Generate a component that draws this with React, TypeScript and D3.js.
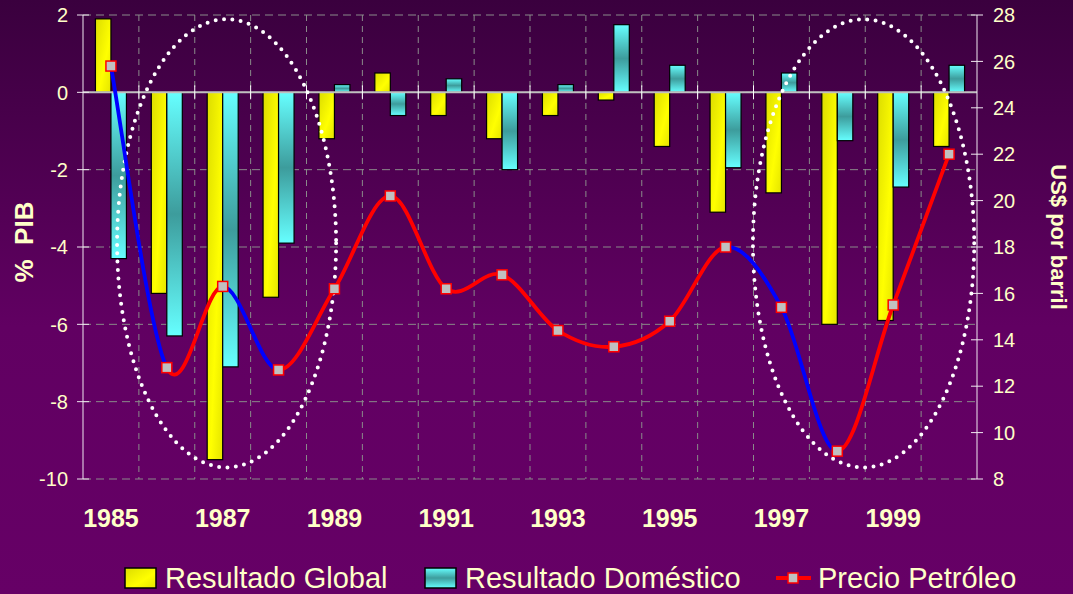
import React from 'react';
import * as d3 from 'd3';

// Chart data
const years = [1985, 1986, 1987, 1988, 1989, 1990, 1991, 1992, 1993, 1994, 1995, 1996, 1997, 1998, 1999, 2000];
const globalResult = [1.9, -5.2, -9.5, -5.3, -1.2, 0.5, -0.6, -1.2, -0.6, -0.2, -1.4, -3.1, -2.6, -6.0, -5.9, -1.4];
const domesticResult = [-4.3, -6.3, -7.1, -3.9, 0.2, -0.6, 0.35, -2.0, 0.2, 1.75, 0.7, -1.95, 0.5, -1.25, -2.45, 0.7];
const oilPrice = [25.8, 12.8, 16.3, 12.7, 16.2, 20.2, 16.2, 16.8, 14.4, 13.7, 14.8, 18.0, 15.4, 9.2, 15.5, 22.0];
// price segments (from year i to year i+1) drawn in blue
const blueSegments = [0, 2, 11, 12];
const leftTicks = [2, 0, -2, -4, -6, -8, -10];
const rightTicks = [28, 26, 24, 22, 20, 18, 16, 14, 12, 10, 8];
const yearLabels = [1985, 1987, 1989, 1991, 1993, 1995, 1997, 1999];
// dotted ellipses, in category units (x) and % PIB (y)
const ellipses = [
  { x0: 0.61, x1: 4.53, y0: 1.89, y1: -9.7 },
  { x0: 11.99, x1: 15.95, y0: 1.89, y1: -9.7 },
];
const legendItems = ['Resultado Global', 'Resultado Doméstico', 'Precio Petróleo'];

const W = 1073, H = 594;
const margin = { top: 15, right: 96, bottom: 115, left: 83 };
const textColor = '#ffffc8';
const font = '"Liberation Sans", Arial, sans-serif';

export default function App() {
  const x = d3.scaleBand<number>().domain(years).range([margin.left, W - margin.right]);
  const xi = d3.scaleLinear().domain([0, years.length]).range([margin.left, W - margin.right]);
  const yL = d3.scaleLinear().domain([-10, 2]).range([H - margin.bottom, margin.top]);
  const yR = d3.scaleLinear().domain([8, 28]).range([H - margin.bottom, margin.top]);
  const sub = d3.scaleBand<string>().domain(['g', 'd']).range([0, 31]);
  const bw = x.bandwidth();
  const cx = (yr: number) => (x(yr) as number) + bw / 2;

  const pts = years.map((yr, i) => [cx(yr), yR(oilPrice[i])] as [number, number]);
  // smoothed segment i -> i+1 (cardinal spline, tension 0)
  const segPath = (i: number) => {
    const p0 = pts[Math.max(i - 1, 0)], p1 = pts[i], p2 = pts[i + 1], p3 = pts[Math.min(i + 2, pts.length - 1)];
    const path = d3.path();
    path.moveTo(p1[0], p1[1]);
    path.bezierCurveTo(
      p1[0] + (p2[0] - p0[0]) / 6, p1[1] + (p2[1] - p0[1]) / 6,
      p2[0] - (p3[0] - p1[0]) / 6, p2[1] - (p3[1] - p1[1]) / 6,
      p2[0], p2[1]
    );
    return path.toString();
  };

  const x0 = margin.left, x1 = W - margin.right;
  const yZero = yL(0);

  return (
    <svg width={W} height={H} style={{ position: 'absolute', left: 0, top: 0 }} fontFamily={font}>
      <defs>
        <linearGradient id="bg" x1="0" y1="0" x2="0" y2="1">
          <stop offset="0" stopColor="#3a003e" />
          <stop offset="0.55" stopColor="#610062" />
          <stop offset="1" stopColor="#660066" />
        </linearGradient>
        <linearGradient id="cyan" x1="0" y1="0" x2="0" y2="1">
          <stop offset="0" stopColor="#66ffff" />
          <stop offset="0.5" stopColor="#3d9c9c" />
          <stop offset="1" stopColor="#66ffff" />
        </linearGradient>
        <linearGradient id="yellow" x1="0" y1="0" x2="1" y2="1">
          <stop offset="0" stopColor="#dcdc00" />
          <stop offset="0.6" stopColor="#ffff00" />
          <stop offset="1" stopColor="#e4e400" />
        </linearGradient>
      </defs>
      <rect width={W} height={H} fill="url(#bg)" />

      {/* grid */}
      {leftTicks.map(t => (
        <line key={'h' + t} x1={x0} x2={x1} y1={yL(t)} y2={yL(t)} stroke="#8a8a8a" strokeDasharray="8 5" strokeWidth={1} />
      ))}
      {years.slice(1).map(yr => (
        <line key={'v' + yr} x1={x(yr)} x2={x(yr)} y1={yL(2)} y2={yL(-10)} stroke="#8a8a8a" strokeDasharray="6 5" strokeWidth={1} />
      ))}

      {/* bars */}
      {years.map((yr, i) => {
        const left = cx(yr) - 15.5;
        const g = globalResult[i], d = domesticResult[i];
        return (
          <g key={'b' + yr}>
            <rect x={left + (sub('g') as number)} width={sub.bandwidth()} y={Math.min(yL(g), yZero)} height={Math.abs(yL(g) - yZero)}
              fill="url(#yellow)" stroke="#000" strokeWidth={1.2} />
            <rect x={left + (sub('d') as number)} width={sub.bandwidth()} y={Math.min(yL(d), yZero)} height={Math.abs(yL(d) - yZero)}
              fill="url(#cyan)" stroke="#000" strokeWidth={1.2} />
          </g>
        );
      })}

      {/* zero line & axes */}
      <line x1={x0} x2={x1} y1={yZero} y2={yZero} stroke="#c0c0c0" strokeWidth={2} />
      {years.slice(1).map(yr => (
        <line key={'xt' + yr} x1={x(yr)} x2={x(yr)} y1={yZero - 7} y2={yZero + 7} stroke="#fff" strokeWidth={1} />
      ))}
      <line x1={x0} x2={x0} y1={yL(2)} y2={yL(-10)} stroke="#f0e8f0" strokeWidth={1} />
      <line x1={x1} x2={x1} y1={yR(28)} y2={yR(8)} stroke="#f0e8f0" strokeWidth={1} />
      {leftTicks.map(t => (
        <g key={'lt' + t}>
          <line x1={x0 - 6} x2={x0 + 6} y1={yL(t)} y2={yL(t)} stroke="#f0e8f0" />
          <text x={x0 - 15} y={yL(t)} dy="0.36em" textAnchor="end" fontSize={20} fill={textColor}>{t}</text>
        </g>
      ))}
      {rightTicks.map(t => (
        <g key={'rt' + t}>
          <line x1={x1 - 6} x2={x1 + 6} y1={yR(t)} y2={yR(t)} stroke="#f0e8f0" />
          <text x={x1 + 16} y={yR(t)} dy="0.36em" textAnchor="start" fontSize={20} fill={textColor}>{t}</text>
        </g>
      ))}
      {yearLabels.map(yr => (
        <text key={'yl' + yr} x={cx(yr)} y={527} textAnchor="middle" fontSize={25} fontWeight="bold" fill={textColor}>{yr}</text>
      ))}
      <text transform={`translate(33,242) rotate(-90)`} textAnchor="middle" fontSize={26} fontWeight="bold" fill={textColor}>{'%\u00a0 PIB'}</text>
      <text transform={`translate(1051,237) rotate(90)`} textAnchor="middle" fontSize={22} fontWeight="bold" fill={textColor}>US$ por barril</text>

      {/* dotted ellipses */}
      {ellipses.map((e, i) => (
        <ellipse key={'e' + i} cx={(xi(e.x0) + xi(e.x1)) / 2} cy={(yL(e.y0) + yL(e.y1)) / 2}
          rx={(xi(e.x1) - xi(e.x0)) / 2} ry={(yL(e.y1) - yL(e.y0)) / 2}
          fill="none" stroke="#fff" strokeWidth={4} strokeLinecap="round" strokeDasharray="0 8.4" />
      ))}

      {/* oil price line */}
      {pts.slice(0, -1).map((_, i) => (
        <path key={'s' + i} d={segPath(i)} fill="none" stroke={blueSegments.includes(i) ? '#0000ff' : '#ff0000'} strokeWidth={3.8} strokeLinecap="round" />
      ))}
      {pts.map((p, i) => (
        <rect key={'m' + i} x={p[0] - 5} y={p[1] - 5} width={10} height={10} fill="#c0c0c0" stroke="#ff0000" strokeWidth={1.5} />
      ))}

      {/* legend */}
      <rect x={125} y={568} width={31} height={20} fill="url(#yellow)" stroke="#000" strokeWidth={1.5} />
      <text x={165} y={588} fontSize={29} fill={textColor}>{legendItems[0]}</text>
      <rect x={425} y={568} width={31} height={20} fill="url(#cyan)" stroke="#000" strokeWidth={1.5} />
      <text x={465} y={588} fontSize={29} fill={textColor}>{legendItems[1]}</text>
      <line x1={776} x2={811} y1={578} y2={578} stroke="#ff0000" strokeWidth={3.8} />
      <rect x={788} y={573} width={10} height={10} fill="#c0c0c0" stroke="#ff0000" strokeWidth={1.5} />
      <text x={818} y={588} fontSize={29} fill={textColor}>{legendItems[2]}</text>
    </svg>
  );
}
